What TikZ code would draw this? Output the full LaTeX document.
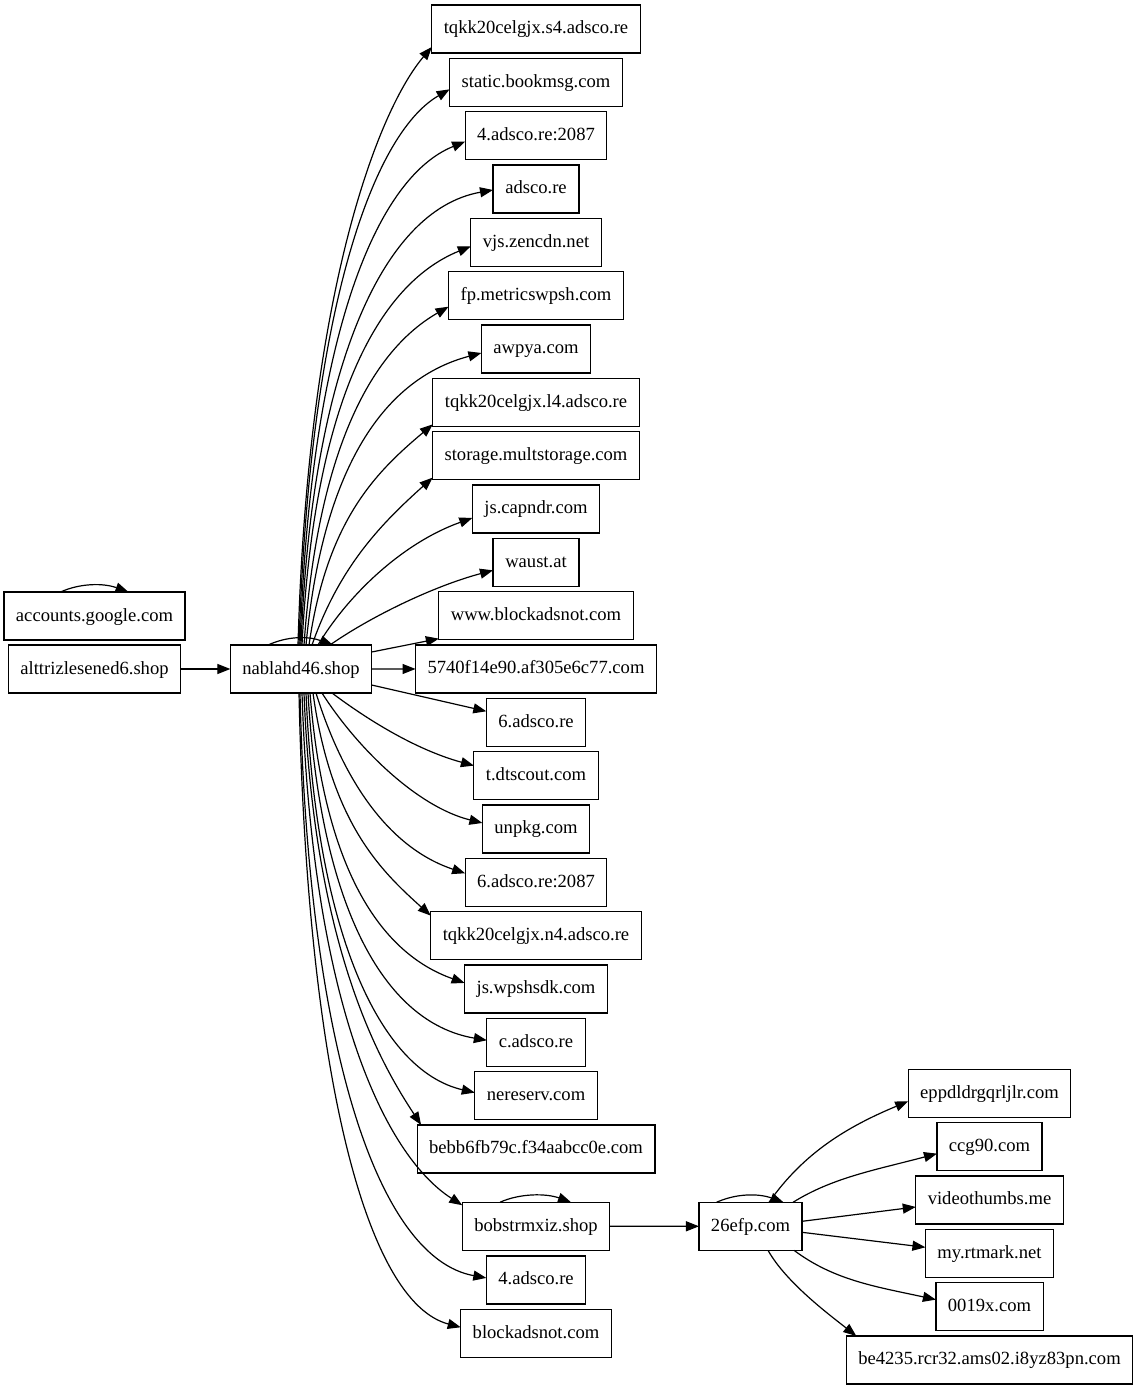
\documentclass[tikz,border=0pt]{standalone}
\usepackage{fontspec}
\setmainfont{Liberation Serif}
\usetikzlibrary{arrows.meta,positioning}
\tikzstyle{host} = [draw, rectangle, line width=1.2pt, minimum height=48pt,
    minimum width=86pt, inner xsep=12pt, inner ysep=2pt, outer sep=0pt,
    text height=13.5pt, text depth=3.5pt, font=\fontsize{18.6}{22}\selectfont]
\tikzstyle{link} = [-{Triangle[length=13pt,width=10pt]}, line width=1.2pt]

\begin{document}
\begin{tikzpicture}[x=1pt, y=1pt]
		\useasboundingbox (0,0) rectangle (1136,-1389);
		\fill[white] (0,0) rectangle (1136,-1389);

		% left column
		\node[host] (alt) at (94.5,-669) {alttrizlesened6.shop};
		\node[host, above=5pt of alt] (acc) {accounts.google.com};
		\node[host] (nab) at (301,-669) {nablahd46.shop};

		% middle column
		\node[host] (m1) at (536,-29) {tqkk20celgjx.s4.adsco.re};
		\node[host, below=5.33pt of m1] (m2) {static.bookmsg.com};
		\node[host, below=5.33pt of m2] (m3) {4.adsco.re:2087};
		\node[host, below=5.33pt of m3] (m4) {adsco.re};
		\node[host, below=5.33pt of m4] (m5) {vjs.zencdn.net};
		\node[host, below=5.33pt of m5] (m6) {fp.metricswpsh.com};
		\node[host, below=5.33pt of m6] (m7) {awpya.com};
		\node[host, below=5.33pt of m7] (m8) {tqkk20celgjx.l4.adsco.re};
		\node[host, below=5.33pt of m8] (m9) {storage.multstorage.com};
		\node[host, below=5.33pt of m9] (m10) {js.capndr.com};
		\node[host, below=5.33pt of m10] (m11) {waust.at};
		\node[host, below=5.33pt of m11] (m12) {www.blockadsnot.com};
		\node[host, below=5.33pt of m12] (m13) {5740f14e90.af305e6c77.com};
		\node[host, below=5.33pt of m13] (m14) {6.adsco.re};
		\node[host, below=5.33pt of m14] (m15) {t.dtscout.com};
		\node[host, below=5.33pt of m15] (m16) {unpkg.com};
		\node[host, below=5.33pt of m16] (m17) {6.adsco.re:2087};
		\node[host, below=5.33pt of m17] (m18) {tqkk20celgjx.n4.adsco.re};
		\node[host, below=5.33pt of m18] (m19) {js.wpshsdk.com};
		\node[host, below=5.33pt of m19] (m20) {c.adsco.re};
		\node[host, below=5.33pt of m20] (m21) {nereserv.com};
		\node[host, below=5.33pt of m21] (m22) {bebb6fb79c.f34aabcc0e.com};
		\node[host, below=29.3pt of m22] (bob) {bobstrmxiz.shop};
		\node[host, below=5.7pt of bob] (m24) {4.adsco.re};
		\node[host, below=5.33pt of m24] (m25) {blockadsnot.com};

		% right part
		\node[host] (efp) at (750.5,-1226.3) {26efp.com};
		\node[host] (r1) at (989.5,-1093.3) {eppdldrgqrljlr.com};
		\node[host, below=5.33pt of r1] (r2) {ccg90.com};
		\node[host, below=5.33pt of r2] (r3) {videothumbs.me};
		\node[host, below=5.33pt of r3] (r4) {my.rtmark.net};
		\node[host, below=5.33pt of r4] (r5) {0019x.com};
		\node[host, below=5.33pt of r5] (r6) {be4235.rcr32.ams02.i8yz83pn.com};

		% self loops
		\draw[link] ([xshift=-34pt]acc.north) .. controls +(20,9) and +(-25,9) .. ([xshift=34pt]acc.north);
		\draw[link] ([xshift=-33pt]nab.north) .. controls +(20,9) and +(-25,9) .. ([xshift=32pt]nab.north);
		\draw[link] ([xshift=-36pt]bob.north) .. controls +(20,9) and +(-25,9) .. ([xshift=35pt]bob.north);
		\draw[link] ([xshift=-34pt]efp.north) .. controls +(20,9) and +(-25,9) .. ([xshift=33pt]efp.north);

		\draw[link] (alt) -- (nab);
		\draw[link] (bob) -- (efp);

		% nablahd46.shop upwards
		\draw[link] ([xshift=-3pt]nab.north) .. controls +(10,360) and +(-52,-61) .. ([yshift=6pt]m1.south west);
		\draw[link] ([xshift=-2pt]nab.north) .. controls +(10,330) and +(-78,-45) .. ([yshift=-7pt]m2.west);
		\draw[link] ([xshift=-1pt]nab.north) .. controls +(10,300) and +(-92,-37) .. ([yshift=-6pt]m3.west);
		\draw[link] (nab.north) .. controls +(10,270) and +(-113,-20) .. ([yshift=-1pt]m4.west);
		\draw[link] ([xshift=1pt]nab.north) .. controls +(12,240) and +(-94,-38) .. ([yshift=-4pt]m5.west);
		\draw[link] ([xshift=3pt]nab.north) .. controls +(14,200) and +(-75,-43) .. ([yshift=-11pt]m6.west);
		\draw[link] ([xshift=5pt]nab.north) .. controls +(16,170) and +(-102,-27) .. ([yshift=-4pt]m7.west);
		\draw[link] ([xshift=8pt]nab.north) .. controls +(18,125) and +(-57,-48) .. ([yshift=2pt]m8.south west);
		\draw[link] ([xshift=11pt]nab.north) .. controls +(28,80) and +(-50,-45) .. ([yshift=2pt]m9.south west);
		\draw[link] ([xshift=17pt]nab.north) .. controls +(30,50) and +(-70,-25) .. ([yshift=-9pt]m10.west);
		\draw[link] ([xshift=29pt]nab.north) .. controls +(40,28) and +(-60,-16) .. ([yshift=-8pt]m11.west);

		% nablahd46.shop sideways
		\draw[link] ([yshift=17pt]nab.east) -- ([yshift=1pt]m12.south west);
		\draw[link] (nab) -- (m13);
		\draw[link] ([yshift=-16pt]nab.east) -- ([yshift=11pt]m14.west);

		% nablahd46.shop downwards
		\draw[link] ([xshift=31pt]nab.south) .. controls +(40,-30) and +(-55,15) .. ([yshift=10pt]m15.west);
		\draw[link] ([xshift=21pt]nab.south) .. controls +(35,-55) and +(-65,16) .. ([yshift=6pt]m16.west);
		\draw[link] ([xshift=15pt]nab.south) .. controls +(28,-90) and +(-75,25) .. ([yshift=9pt]m17.west);
		\draw[link] ([xshift=12pt]nab.south) .. controls +(18,-130) and +(-50,45) .. ([yshift=-4pt]m18.north west);
		\draw[link] ([xshift=9pt]nab.south) .. controls +(14,-175) and +(-85,30) .. ([yshift=6pt]m19.west);
		\draw[link] ([xshift=7pt]nab.south) .. controls +(12,-210) and +(-105,18) .. ([yshift=2pt]m20.west);
		\draw[link] ([xshift=5pt]nab.south) .. controls +(10,-240) and +(-95,22) .. ([yshift=3pt]m21.west);
		\draw[link] ([xshift=3pt]nab.south) .. controls +(10,-260) and +(-38,58) .. ([xshift=4pt]m22.north west);
		\draw[link] ([xshift=1pt]nab.south) .. controls +(10,-310) and +(-78,50) .. ([yshift=-3pt]bob.north west);
		\draw[link] ([xshift=-1pt]nab.south) .. controls +(8,-350) and +(-110,20) .. ([yshift=2pt]m24.west);
		\draw[link] ([xshift=-2pt]nab.south) .. controls +(8,-380) and +(-95,25) .. ([yshift=6pt]m25.west);

		% 26efp.com
		\draw[link] ([xshift=18.5pt]efp.north) .. controls +(35,50) and +(-60,-25) .. ([yshift=-8pt]r1.west);
		\draw[link] ([xshift=-9pt]efp.north east) .. controls +(40,25) and +(-60,-16) .. ([yshift=-7pt]r2.west);
		\draw[link] ([yshift=5pt]efp.east) -- ([yshift=-7pt]r3.west);
		\draw[link] ([yshift=-6pt]efp.east) -- ([yshift=6pt]r4.west);
		\draw[link] ([xshift=-8pt]efp.south east) .. controls +(40,-30) and +(-60,13) .. ([yshift=7pt]r5.west);
		\draw[link] ([xshift=17.5pt]efp.south) .. controls +(18,-32) and +(-28,22) .. ([xshift=10pt]r6.north west);
	\end{tikzpicture}
\end{document}
